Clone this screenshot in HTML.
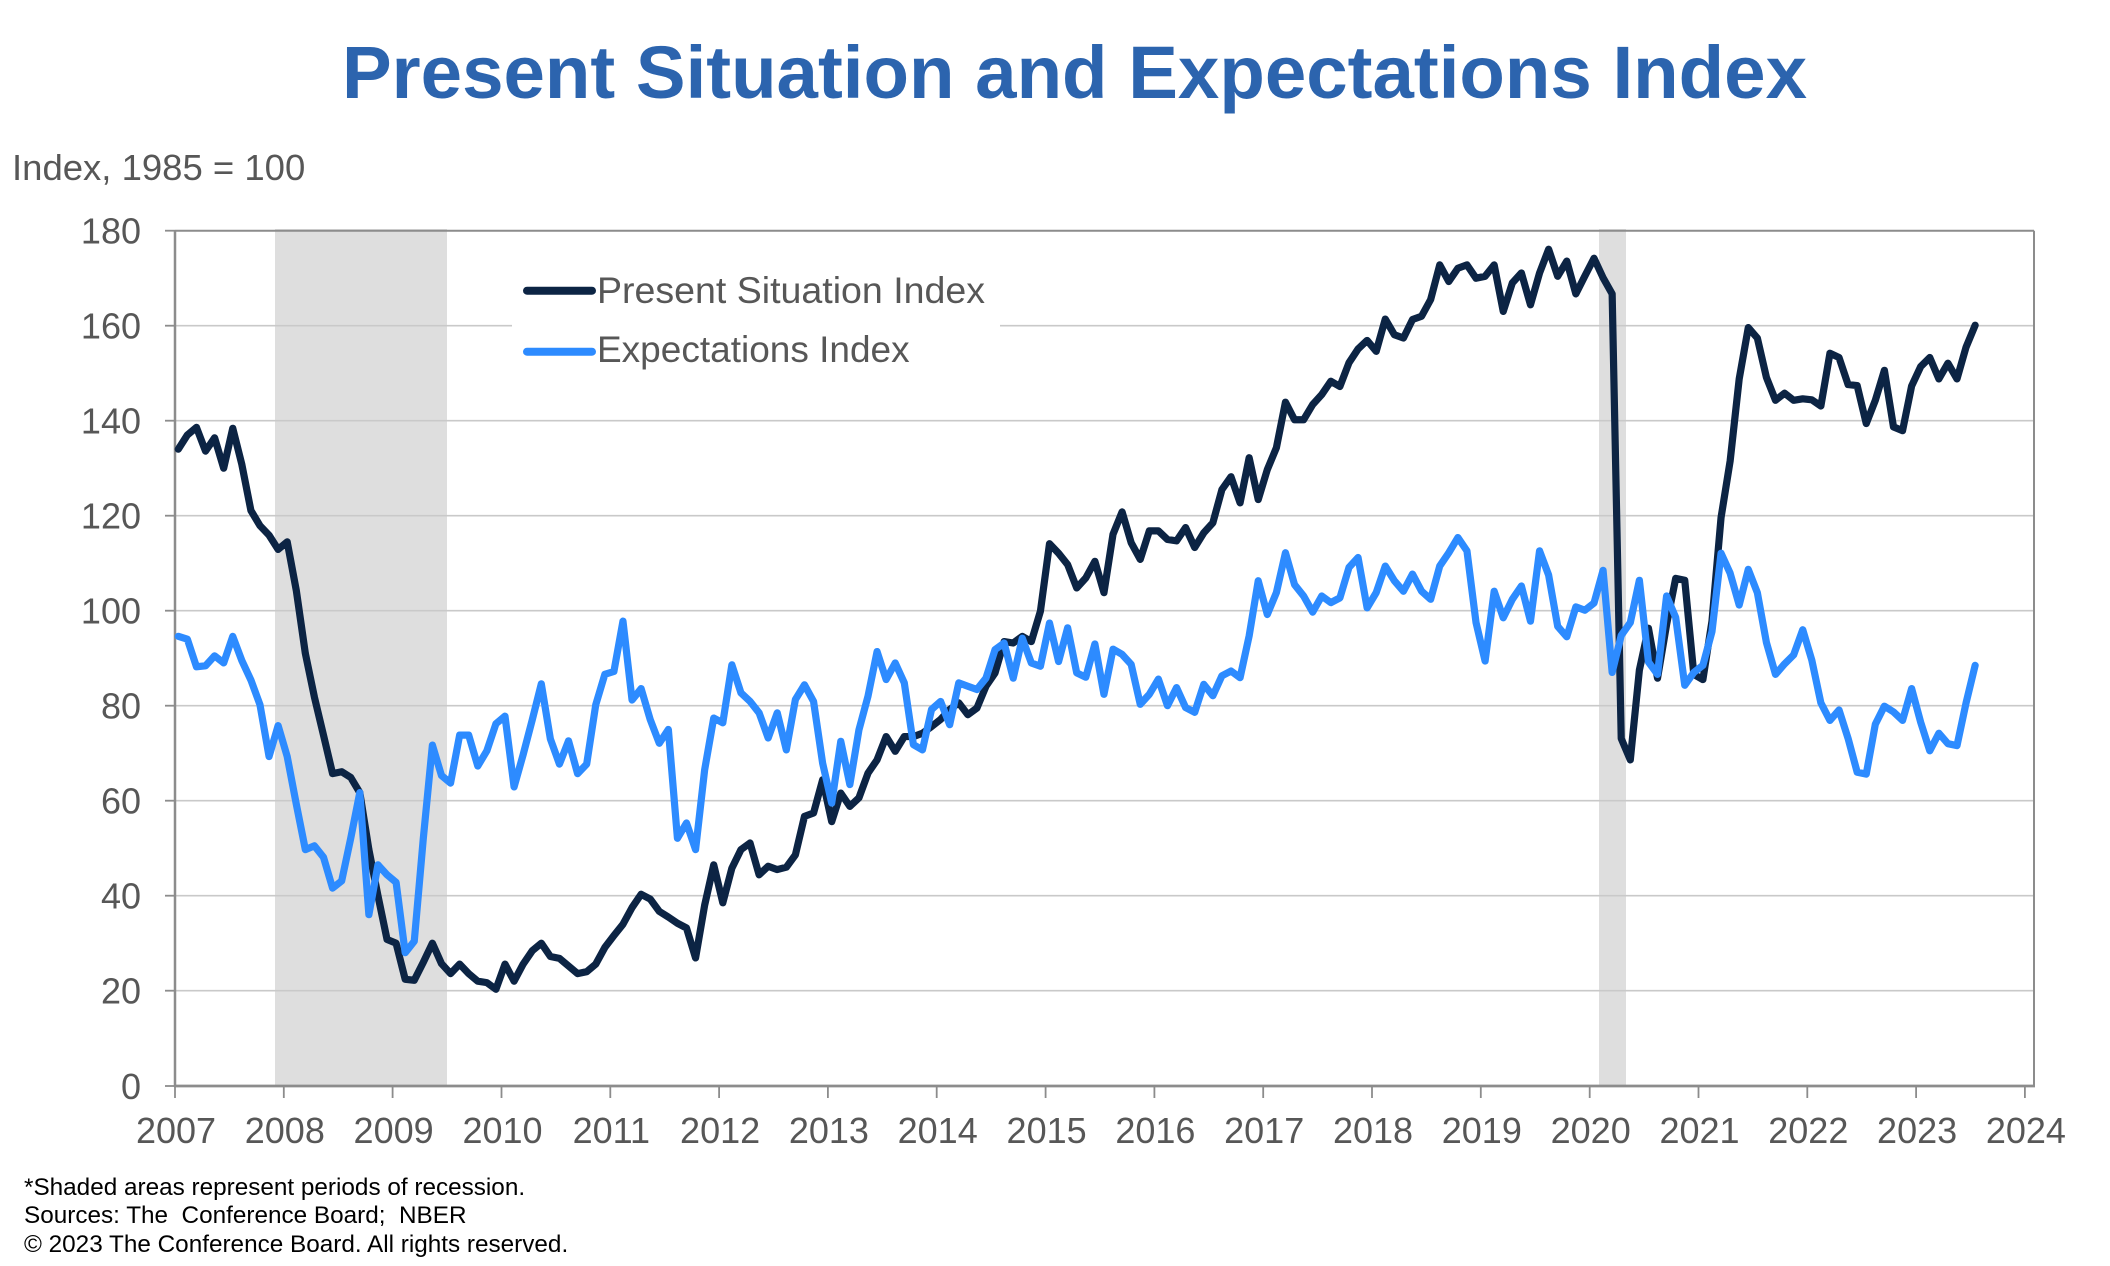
<!DOCTYPE html>
<html><head><meta charset="utf-8"><style>
html,body{margin:0;padding:0;background:#fff;}
svg{display:block;}
text{font-family:"Liberation Sans",Arial,sans-serif;}
</style></head><body>
<svg width="2110" height="1266" viewBox="0 0 2110 1266" xmlns="http://www.w3.org/2000/svg">
<rect x="0" y="0" width="2110" height="1266" fill="#fff"/>
<text x="1074.5" y="98" text-anchor="middle" font-size="74.5" font-weight="bold" fill="#2c64ae" textLength="1465" lengthAdjust="spacingAndGlyphs">Present Situation and Expectations Index</text>
<text x="12" y="180" font-size="36.5" fill="#575757">Index, 1985 = 100</text>
<!-- recession shading -->
<rect x="275" y="229" width="172" height="857" fill="#dedede"/>
<rect x="1599" y="229" width="27" height="857" fill="#dedede"/>
<!-- gridlines -->
<g stroke="#c9c9c9" stroke-width="1.6">
<line x1="175" y1="990.7" x2="2034" y2="990.7"/>
<line x1="175" y1="895.7" x2="2034" y2="895.7"/>
<line x1="175" y1="800.7" x2="2034" y2="800.7"/>
<line x1="175" y1="705.7" x2="2034" y2="705.7"/>
<line x1="175" y1="610.7" x2="2034" y2="610.7"/>
<line x1="175" y1="515.7" x2="2034" y2="515.7"/>
<line x1="175" y1="420.7" x2="2034" y2="420.7"/>
<line x1="175" y1="325.7" x2="2034" y2="325.7"/>
</g>
<!-- frame -->
<g stroke="#8c8c8c" fill="none">
<line x1="175" y1="230.7" x2="2034" y2="230.7" stroke-width="2"/>
<line x1="2034" y1="230.7" x2="2034" y2="1086" stroke-width="2"/>
<line x1="175" y1="230" x2="175" y2="1087" stroke-width="2.5"/>
<line x1="174" y1="1086" x2="2035" y2="1086" stroke-width="2.8"/>
</g>
<!-- y ticks -->
<g stroke="#8c8c8c" stroke-width="1.8">
<line x1="165" y1="1086" x2="175" y2="1086"/>
<line x1="165" y1="990.7" x2="175" y2="990.7"/>
<line x1="165" y1="895.7" x2="175" y2="895.7"/>
<line x1="165" y1="800.7" x2="175" y2="800.7"/>
<line x1="165" y1="705.7" x2="175" y2="705.7"/>
<line x1="165" y1="610.7" x2="175" y2="610.7"/>
<line x1="165" y1="515.7" x2="175" y2="515.7"/>
<line x1="165" y1="420.7" x2="175" y2="420.7"/>
<line x1="165" y1="325.7" x2="175" y2="325.7"/>
<line x1="165" y1="230.7" x2="175" y2="230.7"/>
</g>
<!-- x ticks -->
<g stroke="#8c8c8c" stroke-width="1.8">
<line x1="175" y1="1086" x2="175" y2="1098"/>
<line x1="283.8" y1="1086" x2="283.8" y2="1098"/>
<line x1="392.6" y1="1086" x2="392.6" y2="1098"/>
<line x1="501.5" y1="1086" x2="501.5" y2="1098"/>
<line x1="610.3" y1="1086" x2="610.3" y2="1098"/>
<line x1="719.1" y1="1086" x2="719.1" y2="1098"/>
<line x1="827.9" y1="1086" x2="827.9" y2="1098"/>
<line x1="936.7" y1="1086" x2="936.7" y2="1098"/>
<line x1="1045.6" y1="1086" x2="1045.6" y2="1098"/>
<line x1="1154.4" y1="1086" x2="1154.4" y2="1098"/>
<line x1="1263.2" y1="1086" x2="1263.2" y2="1098"/>
<line x1="1372" y1="1086" x2="1372" y2="1098"/>
<line x1="1480.8" y1="1086" x2="1480.8" y2="1098"/>
<line x1="1589.7" y1="1086" x2="1589.7" y2="1098"/>
<line x1="1698.5" y1="1086" x2="1698.5" y2="1098"/>
<line x1="1807.3" y1="1086" x2="1807.3" y2="1098"/>
<line x1="1916.1" y1="1086" x2="1916.1" y2="1098"/>
<line x1="2024.9" y1="1086" x2="2024.9" y2="1098"/>
</g>
<!-- y labels -->
<g font-size="36" fill="#575757" text-anchor="end">
<text x="141" y="1099">0</text>
<text x="141" y="1003.7">20</text>
<text x="141" y="908.7">40</text>
<text x="141" y="813.7">60</text>
<text x="141" y="718.7">80</text>
<text x="141" y="623.7">100</text>
<text x="141" y="528.7">120</text>
<text x="141" y="433.7">140</text>
<text x="141" y="338.7">160</text>
<text x="141" y="243.7">180</text>
</g>
<!-- x labels -->
<g font-size="36" fill="#575757" text-anchor="middle">
<text x="176" y="1143">2007</text>
<text x="284.8" y="1143">2008</text>
<text x="393.6" y="1143">2009</text>
<text x="502.5" y="1143">2010</text>
<text x="611.3" y="1143">2011</text>
<text x="720.1" y="1143">2012</text>
<text x="828.9" y="1143">2013</text>
<text x="937.7" y="1143">2014</text>
<text x="1046.6" y="1143">2015</text>
<text x="1155.4" y="1143">2016</text>
<text x="1264.2" y="1143">2017</text>
<text x="1373" y="1143">2018</text>
<text x="1481.8" y="1143">2019</text>
<text x="1590.7" y="1143">2020</text>
<text x="1699.5" y="1143">2021</text>
<text x="1808.3" y="1143">2022</text>
<text x="1917.1" y="1143">2023</text>
<text x="2025.9" y="1143">2024</text>
</g>
<!-- series -->
<g transform="matrix(9.075 0 0 -4.75 178.3 1085.7)" fill="none" stroke-linejoin="round" stroke-linecap="round">
<polyline vector-effect="non-scaling-stroke" stroke="#0c2444" stroke-width="7.2" points="0,134 1,137 2,138.6 3,133.6 4,136.4 5,130 6,138.4 7,130.8 8,121.1 9,117.9 10,115.9 11,112.9 12,114.5 13,104.3 14,91 15,81.8 16,73.8 17,65.7 18,66.1 19,64.9 20,61.7 21,49.7 22,40 23,30.8 24,30 25,22.4 26,22.2 27,26 28,30 29,25.7 30,23.6 31,25.6 32,23.6 33,22 34,21.7 35,20.3 36,25.6 37,22 38,25.6 39,28.4 40,30 41,27.2 42,26.8 43,25.2 44,23.6 45,24 46,25.6 47,29.1 48,31.6 49,34 50,37.5 51,40.3 52,39.3 53,36.7 54,35.5 55,34.2 56,33.2 57,26.9 58,38 59,46.5 60,38.5 61,45.8 62,49.7 63,51.1 64,44.4 65,46.2 66,45.5 67,46 68,48.6 69,56.7 70,57.4 71,64.4 72,55.6 73,61.6 74,58.8 75,60.6 76,65.8 77,68.6 78,73.5 79,70.4 80,73.5 81,73.5 82,74.2 83,75.6 84,77.1 85,79.2 86,80.6 87,78.1 88,79.5 89,84.1 90,86.9 91,93.5 92,93.2 93,94.6 94,93.5 95,99.9 96,114.1 97,112.1 98,109.7 99,104.8 100,106.9 101,110.4 102,103.8 103,116.1 104,120.8 105,114.3 106,110.8 107,116.8 108,116.8 109,115 110,114.7 111,117.5 112,113.3 113,116.4 114,118.5 115,125.5 116,128.2 117,122.7 118,132.2 119,123.4 120,129.7 121,134.3 122,143.9 123,140.2 124,140.2 125,143.4 126,145.5 127,148.3 128,147.2 129,152.2 130,155.1 131,156.9 132,154.6 133,161.4 134,158.1 135,157.4 136,161.3 137,162 138,165.5 139,172.8 140,169.3 141,172.1 142,172.8 143,170 144,170.4 145,172.8 146,163 147,169 148,171.1 149,164.4 150,171.1 151,176.1 152,170.4 153,173.6 154,166.7 155,170.5 156,174.2 157,170.1 158,166.7 159,73.1 160,68.6 161,87.5 162,96.3 163,85.8 164,97.1 165,106.8 166,106.4 167,86.6 168,85.5 169,97.8 170,119.6 171,131.5 172,148.8 173,159.6 174,157.4 175,149.1 176,144.3 177,145.8 178,144.3 179,144.6 180,144.4 181,143.1 182,154.2 183,153.3 184,147.6 185,147.4 186,139.4 187,144.3 188,150.6 189,138.7 190,137.9 191,147.3 192,151.4 193,153.3 194,148.8 195,152.1 196,148.8 197,155.5 198,160.1"/>
<polyline vector-effect="non-scaling-stroke" stroke="#2d8bff" stroke-width="7.2" points="0,94.6 1,94 2,88.2 3,88.4 4,90.5 5,89 6,94.6 7,89.5 8,85.4 9,80.2 10,69.3 11,75.8 12,69.3 13,59.3 14,49.7 15,50.5 16,48.1 17,41.6 18,43.1 19,52.1 20,61.7 21,36 22,46.5 23,44.4 24,42.8 25,28 26,30.4 27,52.1 28,71.7 29,65.3 30,63.7 31,73.8 32,73.8 33,67.3 34,70.5 35,76.2 36,77.8 37,62.9 38,69.7 39,77 40,84.6 41,73 42,67.7 43,72.6 44,65.7 45,67.7 46,80.2 47,86.6 48,87.2 49,97.8 50,81.2 51,83.6 52,77.1 53,72.1 54,75 55,52.1 56,55.3 57,49.7 58,66.5 59,77.4 60,76.4 61,88.6 62,82.7 63,80.9 64,78.5 65,73.2 66,78.5 67,70.7 68,81.3 69,84.4 70,80.9 71,67.9 72,59.5 73,72.5 74,63.4 75,74.9 76,82 77,91.4 78,85.5 79,89 80,84.8 81,71.8 82,70.7 83,79.2 84,80.9 85,76 86,84.8 87,84.1 88,83.4 89,85.8 90,91.8 91,93.2 92,85.8 93,94.2 94,89 95,88.3 96,97.4 97,89.3 98,96.4 99,86.9 100,86 101,93 102,82.4 103,91.9 104,90.8 105,88.7 106,80.3 107,82.4 108,85.6 109,80 110,83.8 111,79.6 112,78.6 113,84.5 114,82.1 115,86.3 116,87.3 117,85.9 118,94.7 119,106.3 120,99.2 121,103.8 122,112.2 123,105.5 124,103.1 125,99.7 126,103.1 127,101.7 128,102.7 129,109.1 130,111.2 131,100.6 132,103.8 133,109.4 134,106.3 135,104.1 136,107.7 137,104.1 138,102.4 139,109.4 140,112.2 141,115.4 142,112.6 143,97.5 144,89.4 145,104.1 146,98.5 147,102.4 148,105.2 149,97.8 150,112.6 151,107.5 152,96.7 153,94.5 154,100.8 155,100.1 156,101.6 157,108.5 158,87 159,94.8 160,97.5 161,106.4 162,89.2 163,86.6 164,103.1 165,98.6 166,84.3 167,87 168,88.5 169,95.6 170,112.1 171,107.9 172,101.2 173,108.7 174,103.8 175,93.3 176,86.6 177,88.8 178,90.7 179,96 180,89.6 181,80.6 182,76.9 183,79.1 184,73.1 185,66 186,65.6 187,76.1 188,79.9 189,78.7 190,76.9 191,83.6 192,76.5 193,70.5 194,74.2 195,72 196,71.6 197,80.6 198,88.5"/>
</g>
<!-- legend -->
<rect x="512" y="262" width="488" height="123" fill="#fff"/>
<line x1="527" y1="290.7" x2="592" y2="290.7" stroke="#0c2444" stroke-width="8" stroke-linecap="round"/>
<line x1="527" y1="351.7" x2="592" y2="351.7" stroke="#2d8bff" stroke-width="8" stroke-linecap="round"/>
<text x="597" y="303" font-size="37" fill="#575757" textLength="388" lengthAdjust="spacingAndGlyphs">Present Situation Index</text>
<text x="597" y="362" font-size="37" fill="#575757">Expectations Index</text>
<!-- footnotes -->
<g font-size="24.3" fill="#000" style="white-space:pre">
<text x="24" y="1195">*Shaded areas represent periods of recession.</text>
<text x="24" y="1223">Sources: The&#160; Conference Board;&#160; NBER</text>
<text x="24" y="1252">© 2023 The Conference Board. All rights reserved.</text>
</g>
</svg>
</body></html>
